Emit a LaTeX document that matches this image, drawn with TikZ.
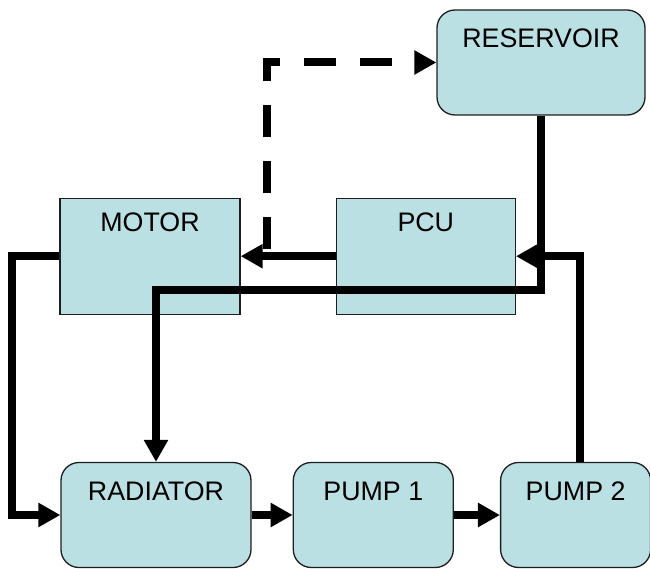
\documentclass[tikz,border=0pt]{standalone}
\usepackage{fontspec}
\setmainfont{Liberation Sans}
\usetikzlibrary{arrows.meta, positioning}
\definecolor{boxfill}{RGB}{186,224,227}
\definecolor{boxline}{RGB}{30,30,30}

\begin{document}
\begin{tikzpicture}[
  x=1pt, y=1pt,
  plantbox/.style={rectangle, draw=boxline, fill=boxfill, line width=1.3pt,
                   inner sep=0pt, font=\fontsize{26.8}{31}\selectfont,
                   text height=33pt, text depth=83pt},
  roundbox/.style={plantbox, rounded corners=18pt,
                   text height=38pt, text depth=67pt},
  pipe/.style={-{Triangle[length=22pt, width=23pt]}, line width=8pt},
  ventline/.style={pipe, dash pattern=on 32pt off 24pt, dash phase=49pt},
]
\useasboundingbox (0,0) rectangle (650,-569);

\node[roundbox, minimum width=190pt] (radiator) at (156,-515) {RADIATOR};
\node[roundbox, minimum width=160pt, right=41pt of radiator] (pump1) {PUMP 1};
\node[roundbox, minimum width=150pt, right=46pt of pump1] (pump2) {PUMP 2};
\node[plantbox, minimum width=180pt, above right=147pt and -1pt of radiator.north west] (motor) {MOTOR};
\node[plantbox, minimum width=179pt, right=95pt of motor] (pcu) {PCU};
\node[roundbox, minimum width=208pt] (reservoir) at (541,-62.5) {RESERVOIR};

% coolant return to the tank
\coordinate[right=26pt of motor.east] (tee);

\draw[pipe] (pcu.west) -- (motor.east);
\draw[ventline] (tee) |- (reservoir.west);
\draw[pipe] (reservoir.south) -- ++(0,-174pt) -| (radiator.north);
\draw[pipe] ([xshift=4pt]pump2.north) |- (pcu.east);
\draw[pipe] (motor.west) -- ++(-47pt,0) |- (radiator.west);
\draw[pipe] (radiator) -- (pump1);
\draw[pipe] (pump1) -- (pump2);

\end{tikzpicture}
\end{document}
